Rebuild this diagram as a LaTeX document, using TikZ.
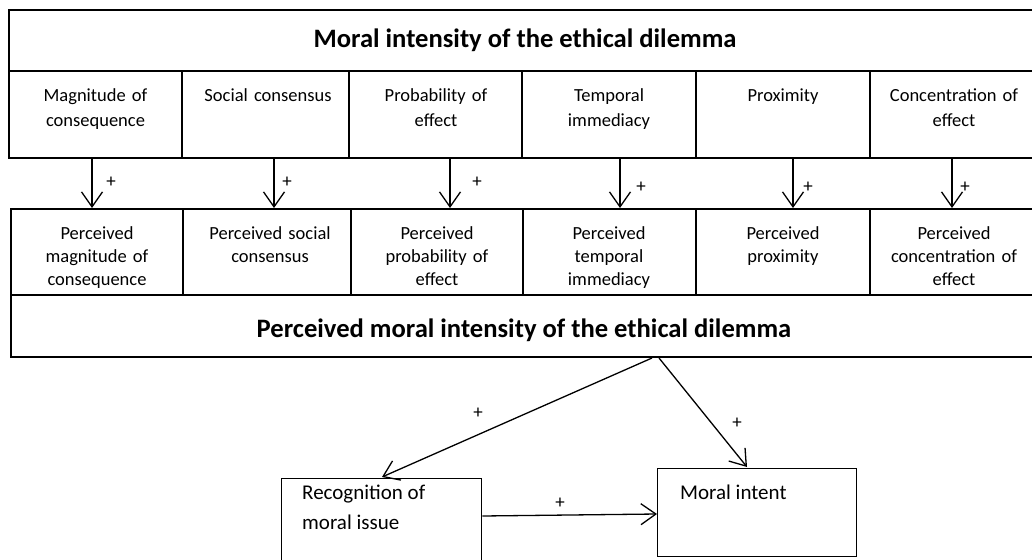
\documentclass[tikz,border=0pt]{standalone}
\usepackage{fontspec}
\setmainfont{Carlito}
\usetikzlibrary{arrows.meta}
\begin{document}
\begin{tikzpicture}[x=1pt,y=-1pt,
  box/.style={draw, line width=1.3pt, inner sep=0pt},
  celltxt/.style={anchor=north, align=center, text width=168pt, inner sep=0pt, font=\fontsize{18.5}{25.5}\selectfont, execute at begin node=\strut},
  celltxtb/.style={anchor=north, align=center, text width=168pt, inner sep=0pt, font=\fontsize{18.5}{23}\selectfont, execute at begin node=\strut},
  bigtxt/.style={font=\fontsize{26.6}{30}\selectfont\bfseries, inner sep=0pt},
  btxt/.style={anchor=north west, align=left, inner sep=0pt, font=\fontsize{21}{30}\selectfont},
  plus/.style={font=\fontsize{19}{19}\selectfont, inner sep=0pt},
  arr/.style={line width=1.3pt, -{Straight Barb[length=15pt,width=21pt,line width=1.3pt]}}]
\useasboundingbox (0,0) rectangle (1032,559);
% top title box
\draw[box] (9,10) rectangle (1040,71);
\node[bigtxt] (t1) at (525,40) {Moral intensity of the ethical dilemma};
% row 1 cells
\draw[box] (9,71) rectangle (182,158) (182,71) rectangle (349,158) (349,71) rectangle (522,158)
  (522,71) rectangle (696,158) (696,71) rectangle (870,158) (870,71) rectangle (1040,158);
\node[celltxt] (a1) at (95.5,83) {Magnitude of\\consequence};
\node[celltxt] (a2) at (268,83) {Social consensus};
\node[celltxt] (a3) at (436,83) {Probability of\\effect};
\node[celltxt] (a4) at (609,83) {Temporal\\immediacy};
\node[celltxt] (a5) at (783,83) {Proximity};
\node[celltxt] (a6) at (954,83) {Concentration of\\effect};
% row 2 cells
\draw[box] (11,209) rectangle (183,295) (183,209) rectangle (351,295) (351,209) rectangle (523,295)
  (523,209) rectangle (696,295) (696,209) rectangle (870,295) (870,209) rectangle (1040,295);
\node[celltxtb] (b1) at (97,223) {Perceived\\magnitude of\\consequence};
\node[celltxtb] (b2) at (270,223) {Perceived social\\consensus};
\node[celltxtb] (b3) at (437,223) {Perceived\\probability of\\effect};
\node[celltxtb] (b4) at (609,223) {Perceived\\temporal\\immediacy};
\node[celltxtb] (b5) at (783,223) {Perceived\\proximity};
\node[celltxtb] (b6) at (954,223) {Perceived\\concentration of\\effect};
% perceived title box
\draw[box] (11,295) rectangle (1040,357);
\node[bigtxt] (t2) at (524,330) {Perceived moral intensity of the ethical dilemma};
% vertical arrows
\coordinate (s1) at (92,158);  \coordinate (e1) at (92,208);
\coordinate (s2) at (274,158); \coordinate (e2) at (274,208);
\coordinate (s3) at (450,158); \coordinate (e3) at (450,208);
\coordinate (s4) at (620,158); \coordinate (e4) at (620,208);
\coordinate (s5) at (793,158); \coordinate (e5) at (793,208);
\coordinate (s6) at (952,158); \coordinate (e6) at (952,208);
\draw[arr] (s1) -- (e1); \draw[arr] (s2) -- (e2); \draw[arr] (s3) -- (e3);
\draw[arr] (s4) -- (e4); \draw[arr] (s5) -- (e5); \draw[arr] (s6) -- (e6);
\node[plus] (p1) at (111,182) {+};
\node[plus] (p2) at (287,182) {+};
\node[plus] (p3) at (477,182) {+};
\node[plus] (p4) at (641,187) {+};
\node[plus] (p5) at (808,187) {+};
\node[plus] (p6) at (965,187) {+};
% bottom boxes
\node[box, minimum width=200pt, minimum height=97pt, anchor=north west] (rec) at (281,478) {};
\node[box, minimum width=199pt, minimum height=88pt, anchor=north west] (int) at (657,468) {};
\node[btxt] (rt) at (302,485) {Recognition of\\moral issue};
\node[btxt] (it) at (680,485) {Moral intent};
% diagonal arrows
\coordinate (o1) at (652,358);
\coordinate (o2) at (659,358);
\draw[arr] (o1) -- (382,477);
\draw[arr] (o2) -- (747,467);
\draw[arr] (rec.east |- 0,516) -- (int.west |- 0,514);
\node[plus] (q1) at (478,413) {+};
\node[plus] (q2) at (737,423) {+};
\node[plus] (q3) at (560,503) {+};
\end{tikzpicture}
\end{document}
